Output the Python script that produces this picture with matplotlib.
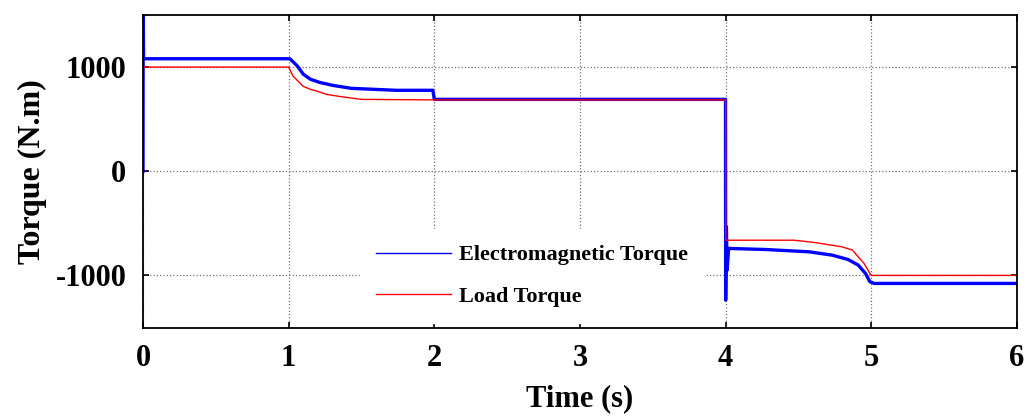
import matplotlib.pyplot as plt

plt.rcParams['font.family'] = ['Liberation Serif', 'DejaVu Serif']
plt.rcParams['font.weight'] = 'bold'
plt.rcParams['axes.unicode_minus'] = False

# Electromagnetic torque
te_time = [0.0, 0.001, 0.004, 1.0, 1.01, 1.06, 1.10, 1.15, 1.21, 1.30, 1.43, 1.74, 1.99,
           2.0, 3.999, 4.0, 4.005, 4.01, 4.02, 4.27, 4.57, 4.73, 4.84, 4.91, 4.96,
           4.99, 5.02, 6.0]
te_vals = [0, 1600, 1080, 1080, 1078, 1010, 932, 883, 854, 825, 796, 777, 777,
           690, 690, -1237, -534, -950, -741, -751, -773, -805, -847, -901, -981,
           -1061, -1077, -1077]

# Load torque
tl_time = [0.0, 1.0, 1.03, 1.10, 1.15, 1.20, 1.26, 1.35, 1.50, 2.0, 4.0, 4.0,
           4.47, 4.61, 4.71, 4.80, 4.87, 4.91, 4.95, 4.99, 5.0, 6.0]
tl_vals = [1000, 1000, 913, 815, 786, 767, 738, 718, 690, 685, 685, -662,
           -662, -684, -706, -726, -757, -821, -885, -981, -1000, -1000]

xticks = [0, 1, 2, 3, 4, 5, 6]
yticks = [-1000, 0, 1000]

fig = plt.figure(figsize=(10.25, 4.19), dpi=100)
ax = fig.add_axes([143 / 1025, 1 - 327.5 / 419, (1017 - 143) / 1025, (327.5 - 15) / 419])

ax.plot(te_time, te_vals, color='#0000ff', lw=2.4, label='Electromagnetic Torque')
ax.plot(tl_time, tl_vals, color='#ff0000', lw=1.0, label='Load Torque')

ax.set_xlim(0, 6)
ax.set_ylim(-1500, 1500)
ax.set_xticks(xticks)
ax.set_yticks(yticks)
ax.grid(True, linestyle=':', color='0.45', linewidth=0.9)

ax.tick_params(direction='in', length=4, width=1.2, top=True, right=True, pad=12)
ax.tick_params(axis='x', labelsize=22)
ax.tick_params(axis='y', labelsize=22)
for s in ax.spines.values():
    s.set_linewidth(1.3)

ax.set_xlabel('Time (s)', fontsize=22, fontweight='bold', labelpad=8)
ax.set_ylabel('Torque (N.m)', fontsize=23, fontweight='bold', labelpad=6)

leg = ax.legend(loc='center', bbox_to_anchor=(532 / 1025, 1 - 276 / 419),
                bbox_transform=fig.transFigure, fontsize=16, frameon=True,
                facecolor='white', edgecolor='white', framealpha=1, fancybox=False,
                handlelength=3.4, handletextpad=0.35, labelspacing=0.95, borderpad=0.7)
for line in leg.get_lines():
    line.set_linewidth(1.0)

fig.savefig('out.png', dpi=100)
